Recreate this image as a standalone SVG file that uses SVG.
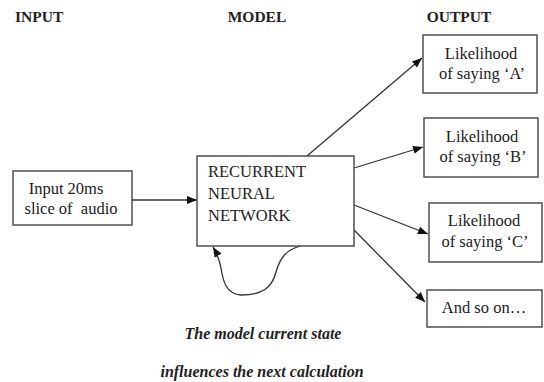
<svg xmlns="http://www.w3.org/2000/svg" width="544" height="382" viewBox="0 0 544 382">
<style>
.box{fill:#fff;stroke:#444;stroke-width:1.4}
.c{fill:none;stroke:#333;stroke-width:1.3}
</style>
<defs>
<marker id="ah" viewBox="0 0 10 10" refX="10" refY="5" markerWidth="10" markerHeight="10" markerUnits="userSpaceOnUse" orient="auto">
<path d="M0,1 L10,5 L0,9 Z" fill="#111"/>
</marker>
</defs>
<rect width="544" height="382" fill="#fff"/>
<g id="headers">
<text x="15" y="22" font-family="Liberation Serif" font-size="15.5" font-weight="bold" fill="#222">INPUT</text>
<text x="257" y="22" font-family="Liberation Serif" font-size="15.5" font-weight="bold" fill="#222" text-anchor="middle">MODEL</text>
<text x="459" y="22" font-family="Liberation Serif" font-size="15.5" font-weight="bold" fill="#222" text-anchor="middle">OUTPUT</text>
</g>
<g id="connectors">
<line class="c" x1="132" y1="200" x2="197" y2="200" marker-end="url(#ah)"/>
<line class="c" x1="307" y1="156" x2="422" y2="58" marker-end="url(#ah)"/>
<line class="c" x1="354" y1="168" x2="423" y2="147" marker-end="url(#ah)"/>
<line class="c" x1="354" y1="205" x2="428" y2="234" marker-end="url(#ah)"/>
<line class="c" x1="354" y1="230" x2="425" y2="302" marker-end="url(#ah)"/>
<path class="c" d="M300,246 C286,250 280,258 276,272 C272,288 262,295 241,295 C226,294 223,281 221,268 C219,258 216,252 213,247" marker-end="url(#ah)"/>
</g>
<g id="input">
<rect class="box" x="13" y="171" width="119" height="54"/>
<text x="66" y="194" font-family="Liberation Serif" font-size="16.5" fill="#222" text-anchor="middle">Input 20ms</text>
<text x="71" y="214" font-family="Liberation Serif" font-size="16.5" fill="#222" text-anchor="middle" xml:space="preserve">slice of  audio</text>
</g>
<g id="model">
<rect class="box" x="197" y="156" width="157" height="90"/>
<text x="208" y="177" font-family="Liberation Serif" font-size="16.5" fill="#222">RECURRENT</text>
<text x="208" y="199" font-family="Liberation Serif" font-size="16.5" fill="#222">NEURAL</text>
<text x="208" y="221" font-family="Liberation Serif" font-size="16.5" fill="#222">NETWORK</text>
</g>
<g id="outA">
<rect class="box" x="423" y="35" width="114" height="58"/>
<text x="481" y="59" font-family="Liberation Serif" font-size="16.5" fill="#222" text-anchor="middle">Likelihood</text>
<text x="482" y="79" font-family="Liberation Serif" font-size="16.5" fill="#222" text-anchor="middle">of saying ‘A’</text>
</g>
<g id="outB">
<rect class="box" x="424" y="118" width="114" height="59"/>
<text x="482" y="142" font-family="Liberation Serif" font-size="16.5" fill="#222" text-anchor="middle">Likelihood</text>
<text x="483" y="162" font-family="Liberation Serif" font-size="16.5" fill="#222" text-anchor="middle">of saying ‘B’</text>
</g>
<g id="outC">
<rect class="box" x="429" y="203" width="113" height="59"/>
<text x="484" y="226" font-family="Liberation Serif" font-size="16.5" fill="#222" text-anchor="middle">Likelihood</text>
<text x="485" y="247" font-family="Liberation Serif" font-size="16.5" fill="#222" text-anchor="middle">of saying ‘C’</text>
</g>
<g id="outD">
<rect class="box" x="427" y="290" width="115" height="37"/>
<text x="484" y="313" font-family="Liberation Serif" font-size="16.5" fill="#222" text-anchor="middle">And so on…</text>
</g>
<g id="caption">
<text x="263" y="339" font-family="Liberation Serif" font-size="16" font-weight="bold" font-style="italic" fill="#222" text-anchor="middle">The model current state</text>
<text x="262" y="377" font-family="Liberation Serif" font-size="16" font-weight="bold" font-style="italic" fill="#222" text-anchor="middle">influences the next calculation</text>
</g>
</svg>
